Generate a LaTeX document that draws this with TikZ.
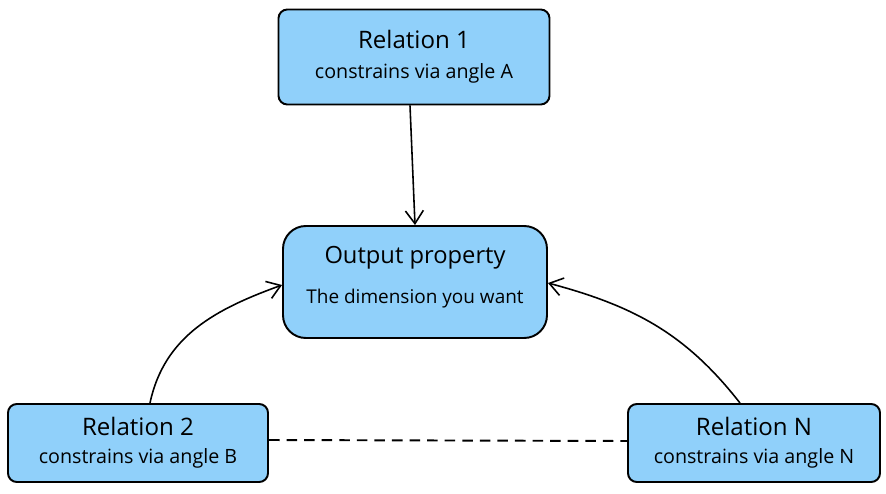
\documentclass[tikz,border=0pt]{standalone}
\usepackage{fontspec}
\setmainfont{Open Sans}
\usetikzlibrary{arrows.meta}
\definecolor{boxblue}{RGB}{144,208,250}
\newcommand{\headsize}{\fontsize{13.7}{16}\selectfont}
\newcommand{\subsize}{\fontsize{11.2}{13}\selectfont}
\tikzset{
    relbox/.style={draw,line width=1.1pt,rounded corners=5pt,fill=boxblue,
        align=center,inner sep=0pt},
    outbox/.style={relbox,rounded corners=13pt},
    link/.style={->,line width=0.9pt}
}
\begin{document}
\begin{tikzpicture}[font=\subsize,>={Straight Barb[length=2.6mm,width=3.6mm]},x=1cm,y=1cm]
    \useasboundingbox (0,0) rectangle (17.72,9.86);

    \node[relbox,minimum width=5.42cm,minimum height=1.90cm] (rel1) at (8.28,8.72)
        {{\headsize Relation 1}\\[4pt] constrains via angle A};
    \node[outbox,minimum width=5.28cm,minimum height=2.24cm] (out) at (8.30,4.22)
        {{\fontsize{13.5}{16}\selectfont Output property}\\[10pt]
         {\fontsize{10.8}{13}\selectfont The dimension you want}\\[-5pt]};
    \node[relbox,minimum width=5.20cm,minimum height=1.56cm] (rel2) at (2.76,1.00)
        {{\headsize Relation 2}\\[3pt] constrains via angle B};
    \node[relbox,minimum width=5.04cm,minimum height=1.56cm] (relN) at (15.08,1.00)
        {{\headsize Relation N}\\[3pt] constrains via angle N};

    \draw[link] ([xshift=-0.08cm]rel1.south) -- (out.north);
    \draw[link] ([xshift=0.24cm]rel2.north) to[out=78,in=200]
        ([yshift=-0.06cm]out.west);
    \draw[link] ([xshift=-0.28cm]relN.north) to[out=128,in=-15]
        ([yshift=-0.02cm]out.east);
    \draw[line width=1.1pt,dash pattern=on 6pt off 4pt]
        ([yshift=0.06cm]rel2.east) -- ([yshift=0.04cm]relN.west);
\end{tikzpicture}
\end{document}
